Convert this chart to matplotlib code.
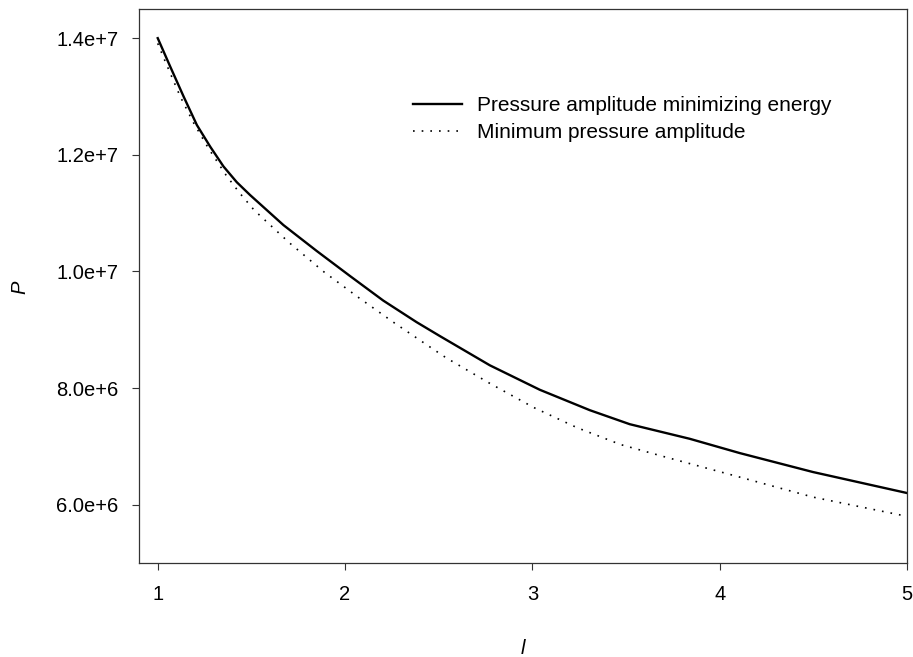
import numpy as np
import matplotlib
matplotlib.use("Agg")
import matplotlib.pyplot as plt

# values
l_solid = [1.0, 1.067, 1.138, 1.209, 1.28, 1.351, 1.422, 1.493, 1.671, 1.849,
           2.027, 2.204, 2.382, 2.507, 2.773, 3.04, 3.307, 3.52, 3.84, 4.107,
           4.498, 5.0]
p_solid = [1.40e7, 1.351e7, 1.300e7, 1.251e7, 1.214e7, 1.180e7, 1.153e7,
           1.131e7, 1.0795e7, 1.035e7, 9.92e6, 9.50e6, 9.13e6, 8.89e6, 8.39e6,
           7.97e6, 7.62e6, 7.38e6, 7.13e6, 6.885e6, 6.56e6, 6.2e6]

l_dot = [1.0, 1.04, 1.12, 1.191, 1.271, 1.365, 1.436, 1.515, 1.703, 1.888,
         2.073, 2.262, 2.446, 2.539, 2.773, 3.008, 3.239, 3.472, 3.707, 4.076,
         4.498, 5.0]
p_dot = [1.391e7, 1.360e7, 1.300e7, 1.255e7, 1.211e7, 1.165e7, 1.135e7,
         1.105e7, 1.049e7, 9.99e6, 9.55e6, 9.12e6, 8.72e6, 8.52e6, 8.08e6,
         7.665e6, 7.32e6, 7.03e6, 6.82e6, 6.50e6, 6.13e6, 5.8e6]

xticks = [1, 2, 3, 4, 5]
yticks = [6e6, 8e6, 1e7, 1.2e7, 1.4e7]
ylabels = ["6.0e+6", "8.0e+6", "1.0e+7", "1.2e+7", "1.4e+7"]

plt.rcParams['font.family'] = ['Liberation Sans', 'DejaVu Sans']

fig = plt.figure(figsize=(9.13, 6.57), dpi=100)
ax = fig.add_axes([139/913, 94/657, 768/913, 554/657])

ax.plot(l_solid, p_solid, color='black', lw=1.7,
        label='Pressure amplitude minimizing energy')
ax.plot(l_dot, p_dot, color='black', lw=1.2, linestyle=(0, (1, 4.2)),
        label='Minimum pressure amplitude')

ax.set_xlim(0.9, 5.0)
ax.set_ylim(5.0e6, 1.45e7)
ax.set_xticks(xticks)
ax.set_xticklabels([str(t) for t in xticks])
ax.set_yticks(yticks)
ax.set_yticklabels(ylabels)
ax.tick_params(direction='out', length=5, width=0.8, labelsize=14.5,
               color='#333333', pad=10)
ax.tick_params(axis='x', pad=11)
for s in ax.spines.values():
    s.set_linewidth(0.9)
    s.set_color('#333333')

fig.text(523/913, 1 - 648/657, 'l', fontsize=14.5, style='italic',
         ha='center', va='center')
fig.text(20/913, 1 - 287/657, 'P', fontsize=14.5, style='italic',
         ha='center', va='center', rotation=90)

ax.legend(loc='upper left', bbox_to_anchor=(413/913, 1 - 96/657),
          bbox_transform=fig.transFigure, frameon=False, fontsize=15,
          handlelength=2.35, handletextpad=0.72, labelspacing=0.38,
          borderpad=0, borderaxespad=0)

fig.savefig('out.png', dpi=100)
